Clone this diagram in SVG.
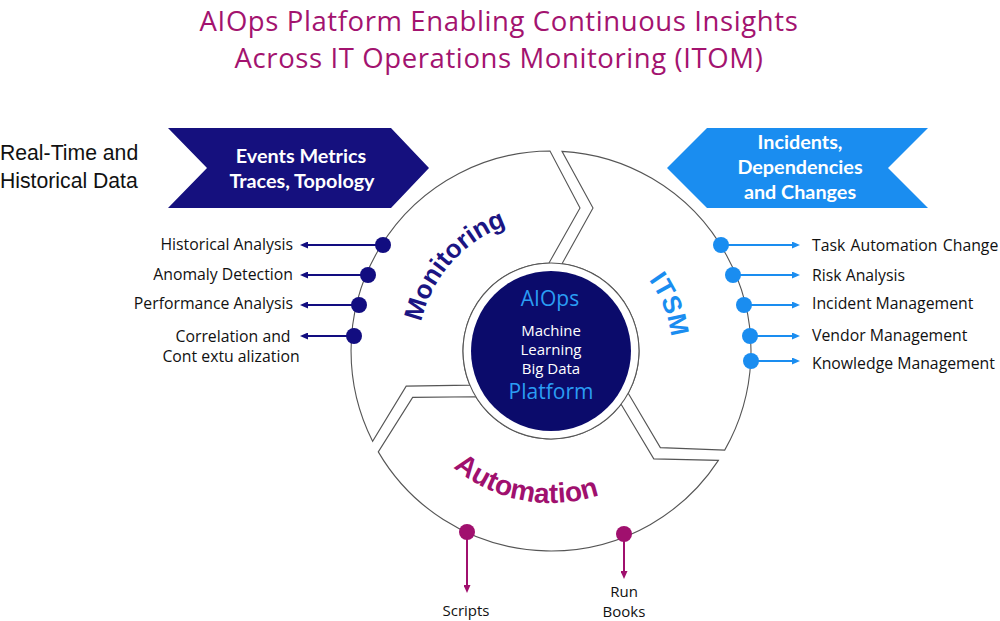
<svg xmlns="http://www.w3.org/2000/svg" xmlns:xlink="http://www.w3.org/1999/xlink" width="1000" height="621" viewBox="0 0 1000 621">
  <style>
    .title { font-family: "Open Sans", "Noto Sans", sans-serif; font-size: 27.5px; letter-spacing: 0.6px; fill: #a3136f; text-anchor: middle; }
    .lead { font-family: "Liberation Sans", Arial, sans-serif; font-size: 21.2px; fill: #111; }
    .chev { font-family: "Lato", "Liberation Sans", sans-serif; font-size: 19.8px; font-weight: bold; fill: #fff; text-anchor: middle; }
    .lbl { font-family: "Open Sans", "Noto Sans", sans-serif; font-size: 15.8px; fill: #111; }
    .sm { font-size: 15px; }
    .seg { fill: #fff; stroke: #555; stroke-width: 1.1; }
    .arc { font-family: "Liberation Sans", Arial, sans-serif; font-weight: bold; }
    .core1 { font-family: "Open Sans", "Noto Sans", sans-serif; font-size: 21px; fill: #2a9df4; text-anchor: middle; }
    .core2 { font-family: "Open Sans", "Noto Sans", sans-serif; font-size: 15px; fill: #fff; text-anchor: middle; }
    .navy { stroke: #120d80; stroke-width: 2; fill: none; }
    .blue { stroke: #1a8df0; stroke-width: 2; fill: none; }
    .mag { stroke: #a0106e; stroke-width: 2; fill: none; }
  </style>
  <defs>
    <path id="segShape" d="M -178.4,90.3 A 200 200 0 0 1 -1,-200 L 29,-143 L -2,-88 A 88 88 0 0 0 -81.1,34.1 L -144.8,35.1 Z"/>
    <path id="pMon" d="M 424.9,393.2 A 133 133 0 0 1 577.5,220.7"/>
    <path id="pItsm" d="M 569.3,231.4 A 121 121 0 0 1 645.4,426.6"/>
    <path id="pAuto" d="M 407.5,401.2 A 152 152 0 0 0 666.2,450.1"/>
    <marker id="ahNavy" viewBox="0 0 8 7" refX="2" refY="3.5" markerWidth="8" markerHeight="7" markerUnits="userSpaceOnUse" orient="auto"><path d="M0,0 L8,3.5 L0,7 z" fill="#120d80"/></marker>
    <marker id="ahBlue" viewBox="0 0 8 7" refX="2" refY="3.5" markerWidth="8" markerHeight="7" markerUnits="userSpaceOnUse" orient="auto"><path d="M0,0 L8,3.5 L0,7 z" fill="#1a8df0"/></marker>
    <marker id="ahMag" viewBox="0 0 8 7" refX="2" refY="3.5" markerWidth="8" markerHeight="7" markerUnits="userSpaceOnUse" orient="auto"><path d="M0,0 L8,3.5 L0,7 z" fill="#a0106e"/></marker>
  </defs>

  <rect width="1000" height="621" fill="#fff"/>

  <g id="title">
    <text class="title" x="499" y="31">AIOps Platform Enabling Continuous Insights</text>
    <text class="title" x="499" y="68">Across IT Operations Monitoring (ITOM)</text>
  </g>

  <g id="input-label">
    <text class="lead" x="0" y="160">Real-Time and</text>
    <text class="lead" x="0" y="188">Historical Data</text>
  </g>

  <g id="input-chevron">
    <polygon points="168,128 391,128 429,168 391,208 168,208 207,168" fill="#15107e"/>
    <text class="chev" x="301" y="163">Events Metrics</text>
    <text class="chev" x="302" y="188">Traces, Topology</text>
  </g>

  <g id="output-chevron">
    <polygon points="667,168 707,128 928,128 888,168 928,208 707,208" fill="#1a8df0"/>
    <text class="chev" x="800" y="149">Incidents,</text>
    <text class="chev" x="800" y="174">Dependencies</text>
    <text class="chev" x="800" y="199">and Changes</text>
  </g>

  <g id="monitoring">
    <use xlink:href="#segShape" class="seg" transform="translate(551,351)"/>
    <text class="arc" font-size="26" fill="#1b1583"><textPath xlink:href="#pMon" startOffset="50%" text-anchor="middle">Monitoring</textPath></text>
  </g>
  <g id="itsm">
    <use xlink:href="#segShape" class="seg" transform="translate(551,351) rotate(120)"/>
    <text class="arc" font-size="26" fill="#1a8df0"><textPath xlink:href="#pItsm" startOffset="50%" text-anchor="middle">ITSM</textPath></text>
  </g>
  <g id="automation">
    <use xlink:href="#segShape" class="seg" transform="translate(551,351) rotate(240)"/>
    <text class="arc" font-size="28" fill="#a0106e"><textPath xlink:href="#pAuto" startOffset="50%" text-anchor="middle">Automation</textPath></text>
  </g>

  <g id="core">
    <circle cx="551" cy="351" r="88" fill="#fff" stroke="#555" stroke-width="1.1"/>
    <circle cx="551" cy="351" r="80" fill="#0b0b6b"/>
    <text class="core1" x="550" y="306">AIOps</text>
    <text class="core2" x="551" y="336">Machine</text>
    <text class="core2" x="551" y="355">Learning</text>
    <text class="core2" x="551" y="374">Big Data</text>
    <text class="core1" x="551" y="399">Platform</text>
  </g>

  <g id="connectors">
    <line class="navy" x1="383" y1="245" x2="306" y2="245" marker-end="url(#ahNavy)"/>
    <line class="navy" x1="368" y1="275" x2="306" y2="275" marker-end="url(#ahNavy)"/>
    <line class="navy" x1="359" y1="305" x2="306" y2="305" marker-end="url(#ahNavy)"/>
    <line class="navy" x1="354" y1="336" x2="306" y2="336" marker-end="url(#ahNavy)"/>
    <line class="blue" x1="721" y1="245" x2="794" y2="245" marker-end="url(#ahBlue)"/>
    <line class="blue" x1="733" y1="275" x2="794" y2="275" marker-end="url(#ahBlue)"/>
    <line class="blue" x1="744" y1="305" x2="794" y2="305" marker-end="url(#ahBlue)"/>
    <line class="blue" x1="750" y1="336" x2="794" y2="336" marker-end="url(#ahBlue)"/>
    <line class="blue" x1="751" y1="361" x2="794" y2="361" marker-end="url(#ahBlue)"/>
    <line class="mag" x1="467" y1="532" x2="467" y2="587" marker-end="url(#ahMag)"/>
    <line class="mag" x1="624" y1="534" x2="624" y2="573" marker-end="url(#ahMag)"/>
  </g>

  <g id="monitoring-outputs">
    <circle cx="383" cy="245" r="8" fill="#120d80"/>
    <circle cx="368" cy="275" r="8" fill="#120d80"/>
    <circle cx="359" cy="305" r="8" fill="#120d80"/>
    <circle cx="354" cy="336" r="8" fill="#120d80"/>
    <text class="lbl" x="293" y="250" text-anchor="end">Historical Analysis</text>
    <text class="lbl" x="293" y="280" text-anchor="end">Anomaly Detection</text>
    <text class="lbl" x="293" y="309" text-anchor="end">Performance Analysis</text>
    <text class="lbl" x="233" y="342" text-anchor="middle">Correlation and</text>
    <text class="lbl" x="231" y="362" text-anchor="middle">Cont extu alization</text>
  </g>

  <g id="itsm-outputs">
    <circle cx="721" cy="245" r="8" fill="#1a8df0"/>
    <circle cx="733" cy="275" r="8" fill="#1a8df0"/>
    <circle cx="744" cy="305" r="8" fill="#1a8df0"/>
    <circle cx="750" cy="336" r="8" fill="#1a8df0"/>
    <circle cx="751" cy="361" r="8" fill="#1a8df0"/>
    <text class="lbl" x="812" y="251" style="white-space:pre; word-spacing:-1.5px">Task  Automation  Change</text>
    <text class="lbl" x="812" y="281">Risk Analysis</text>
    <text class="lbl" x="812" y="309">Incident Management</text>
    <text class="lbl" x="812" y="341">Vendor Management</text>
    <text class="lbl" x="812" y="369">Knowledge Management</text>
  </g>

  <g id="automation-outputs">
    <circle cx="467" cy="532" r="8" fill="#a0106e"/>
    <circle cx="624" cy="534" r="8" fill="#a0106e"/>
    <text class="lbl sm" x="466" y="616" text-anchor="middle">Scripts</text>
    <text class="lbl sm" x="624" y="597" text-anchor="middle">Run</text>
    <text class="lbl sm" x="624" y="617" text-anchor="middle">Books</text>
  </g>
</svg>
